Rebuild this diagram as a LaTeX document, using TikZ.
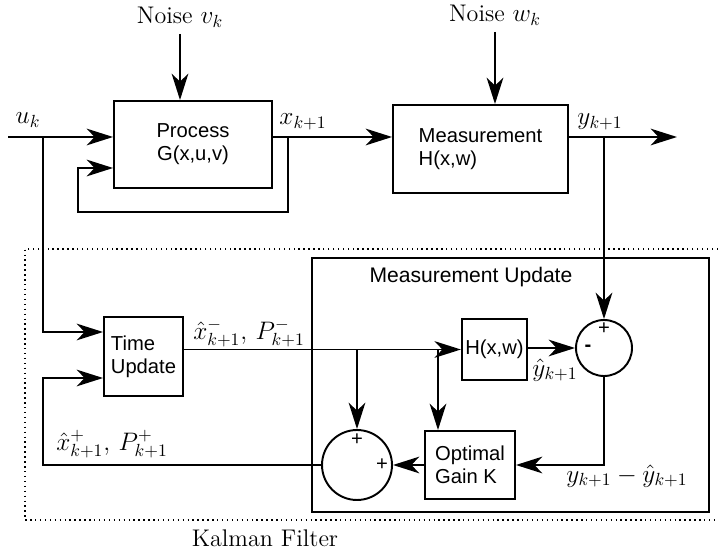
\documentclass[tikz,border=0pt]{standalone}
\usepackage{fontspec}
\newfontfamily\boxfont{Liberation Sans}
\usetikzlibrary{arrows.meta}

\begin{document}
\begin{tikzpicture}[x=0.02cm,y=-0.02cm,line width=1.1pt,
  font=\fontsize{13.7}{16}\selectfont,
  blok/.style={draw,rectangle,font=\boxfont\fontsize{11.5}{13}\selectfont,inner sep=2pt},
  summer/.style={draw,circle,inner sep=0pt},
  sign/.style={font=\boxfont\fontsize{11.5}{13}\selectfont,inner sep=0pt},
  >={Stealth[length=15pt,width=9.5pt,inset=4.5pt]}]

  \useasboundingbox (0,0) rectangle (718,554);

  % plant
  \node[blok,minimum width=3.16cm,minimum height=1.74cm,align=center] (proc) at (193,144.5) {Process\\G(x,u,v)};
  \node[blok,minimum width=3.5cm,minimum height=1.76cm,align=left] (meas) at (480.5,149) {Measurement\\H(x,w)};

  \node (nv) at (180,17) {Noise $v_k$};
  \node (nw) at (495,15) {Noise $w_k$};
  \node (lu) at (28,120) {$u_k$};
  \node (lx) at (303,122) {$x_{k+1}$};
  \node (ly) at (600,122) {$y_{k+1}$};

  \coordinate (uin) at (8,137);
  \coordinate (uktap) at (43,137);
  \coordinate (xtap) at (288,137);
  \coordinate (ytap) at (604,137);
  \coordinate (yout) at (677,137);

  \draw[->] (nv.south) -- (nv.south |- proc.north);
  \draw[->] (nw.south) -- (nw.south |- meas.north);
  \draw[->] (uin) -- (uin -| proc.west);
  \draw[->] (proc.east |- uin) -- (meas.west |- uin);
  \draw[->] (meas.east |- uin) -- (yout);
  \draw[->] (xtap) |- (78,212) |- (proc.west |- 0,168);

  % filter
  \draw[dotted,line width=0.8pt] (718,249) -| (25,520) -- (718,520);
  \node (kf) at (265,538) {Kalman Filter};
  \node[draw,minimum width=7.94cm,minimum height=5.08cm] (mu) at (510.5,385) {};
  \node[font=\boxfont\fontsize{12}{14}\selectfont] (mulab) at (471,277) {Measurement Update};

  \node[blok,minimum width=1.58cm,minimum height=1.58cm,align=left] (tu) at (143.5,356.5) {Time\\Update};
  \node[blok,minimum width=1.26cm,minimum height=1.22cm] (hx) at (494.5,349.5) {H(x,w)};
  \node[blok,minimum width=1.8cm,minimum height=1.36cm,align=left] (og) at (470,465) {Optimal\\Gain K};
  \node[summer,minimum size=1.12cm] (sumA) at (604,348) {};
  \node[summer,minimum size=1.4cm] (sumB) at (357,465) {};

  \node[sign] (pA) at (604,329) {+};
  \node[sign] (mA) at (588,348) {\textbf{-}};
  \node[sign] (pB1) at (357,440) {+};
  \node[sign] (pB2) at (382,465) {+};

  \node (lxm) at (249,333) {$\hat{x}^-_{k+1},\,P^-_{k+1}$};
  \node (lxp) at (112,444) {$\hat{x}^+_{k+1},\,P^+_{k+1}$};
  \node (lyh) at (555,370) {$\hat{y}_{k+1}$};
  \node (lerr) at (627,476) {$y_{k+1}-\hat{y}_{k+1}$};

  \coordinate (b1) at (sumB.north |- hx.west);
  \coordinate (b2) at (438,349.5);

  \draw[->] (ytap) -- (sumA.north);
  \draw[->] (uktap) |- (tu.west |- 0,332);
  \draw[->] (tu.east |- hx.west) -- (hx.west);
  \draw[->] (b1) -- (sumB.north);
  \draw[->] (b2) -- (b2 |- og.north);
  \draw[->] (hx.east |- sumA.west) -- (sumA.west);
  \draw[->] (sumA.south) |- (og.east);
  \draw[->] (og.west) -- (sumB.east);
  \draw[->] (sumB.west) -| (43,378) -- (tu.west |- 0,378);
\end{tikzpicture}
\end{document}
